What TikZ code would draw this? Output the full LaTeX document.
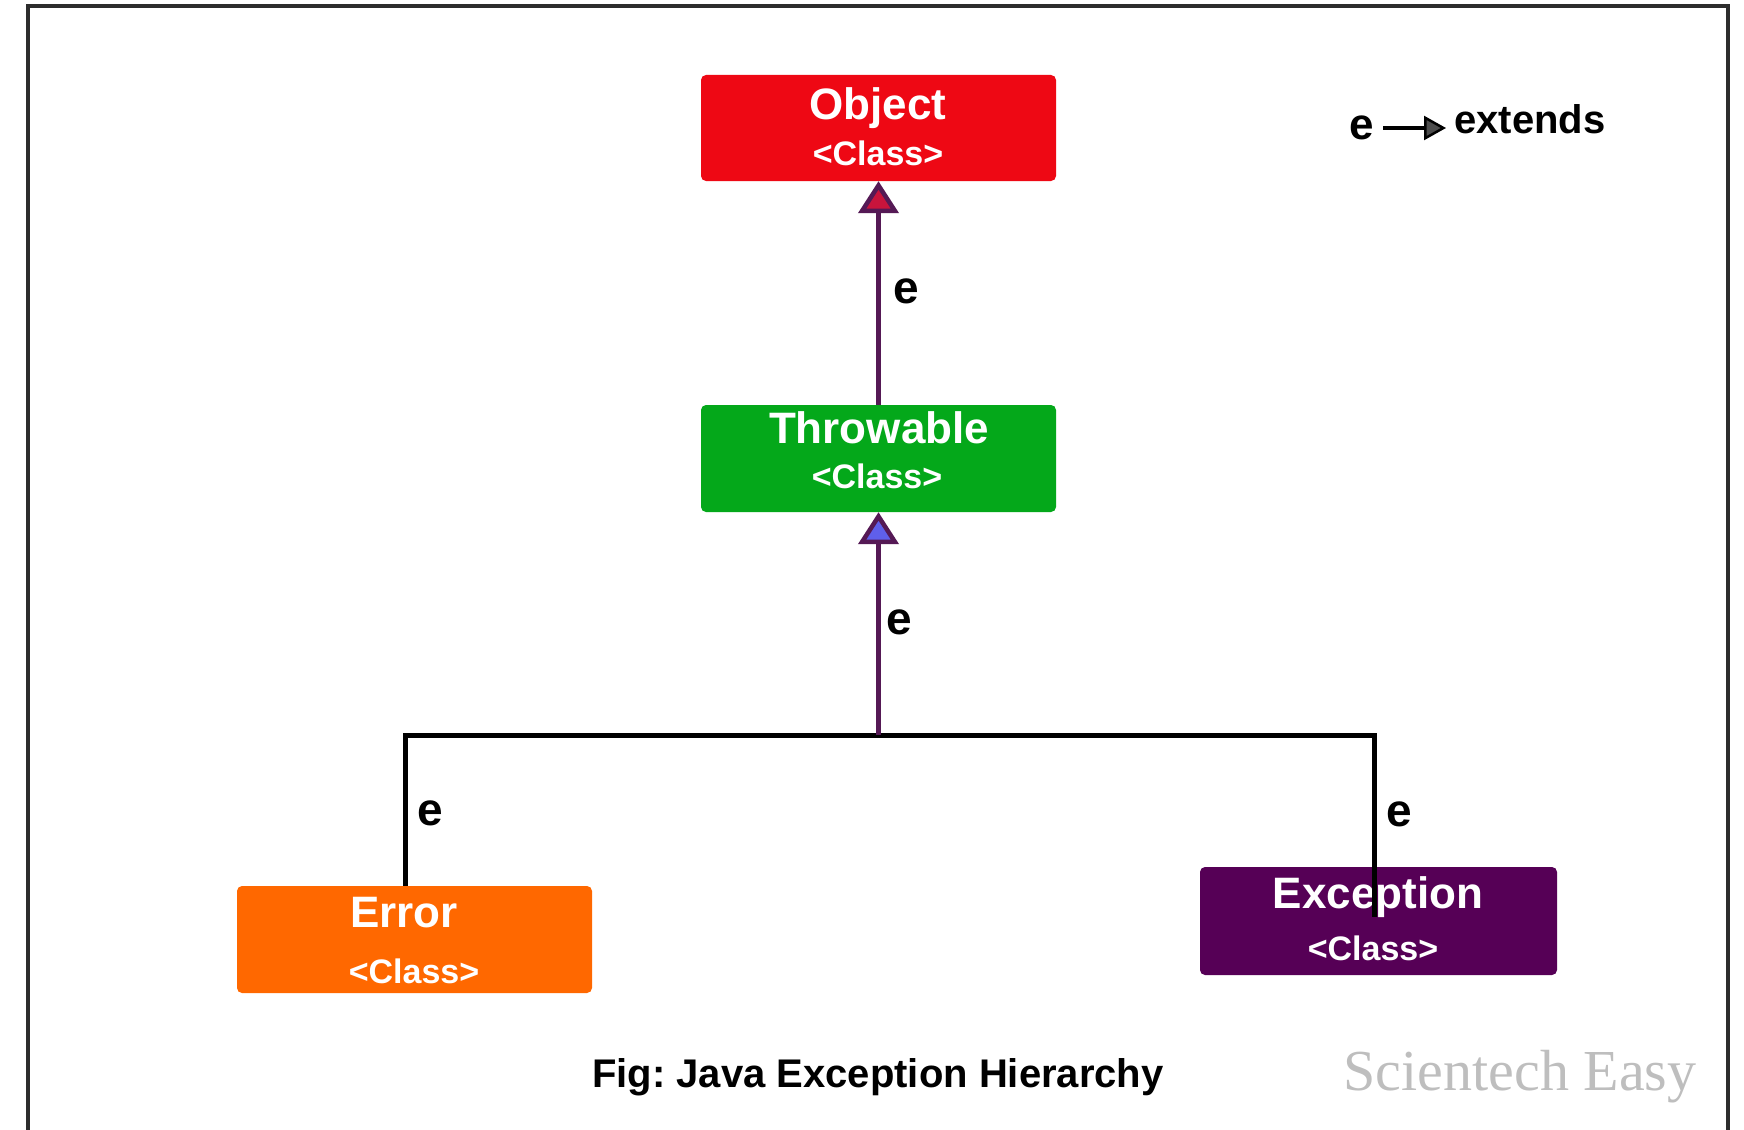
\documentclass[tikz,border=0pt]{standalone}
\usepackage{fontspec}
\setmainfont{Liberation Sans}
\newfontfamily\wmfont{Liberation Serif}
\usetikzlibrary{arrows.meta}
\definecolor{objred}{RGB}{238,8,20}
\definecolor{thrgreen}{RGB}{4,168,26}
\definecolor{errorange}{RGB}{255,104,0}
\definecolor{excpurple}{RGB}{86,0,86}
\definecolor{linkpurple}{RGB}{85,25,85}
\definecolor{tipred}{RGB}{200,20,60}
\definecolor{tipblue}{RGB}{95,95,235}
\definecolor{framegray}{RGB}{45,45,45}
\definecolor{wmgray}{RGB}{190,190,190}
\frenchspacing
\begin{document}
\begin{tikzpicture}[x=1pt,y=-1pt,
 box/.style={rounded corners=5pt, minimum width=355pt, minimum height=106pt, inner sep=0pt, draw=none},
 ttl/.style={anchor=base, text=white, font=\fontsize{44}{44}\selectfont\bfseries, inner sep=0pt},
 cls/.style={anchor=base, text=white, font=\fontsize{34}{34}\selectfont\bfseries, inner sep=0pt},
 elab/.style={font=\fontsize{46}{46}\selectfont\bfseries, inner sep=0pt},
 link/.style={line width=5pt, draw=linkpurple},
 tree/.style={line width=5pt, draw=black}
]
\useasboundingbox (0,0) rectangle (1744,1129);
\fill[white] (0,0) rectangle (1744,1129);
% frame
\draw[framegray, line width=4pt] (28,1135) -- (28,6) -- (1728,6) -- (1728,1135);

% boxes
\node[box, fill=objred] (obj) at (878.5,128) {};
\node[box, fill=thrgreen, minimum height=107pt] (thr) at (878.5,458.5) {};
\node[box, fill=errorange, minimum height=107pt] (err) at (414.5,939.5) {};
\node[box, fill=excpurple, minimum height=108pt, minimum width=357pt] (exc) at (1378.5,921) {};

% texts
\node[ttl] (objT) at (878,120) {Object};
\node[cls] (objC) at (878,165) {<Class>};
\node[ttl] (thrT) at (879,443) {Throwable};
\node[cls] (thrC) at (877,488) {<Class>};
\node[ttl] (errT) at (404,927) {Error};
\node[cls] (errC) at (414,983) {<Class>};
\node[ttl] (excT) at (1378,908) {Exception};
\node[cls] (excC) at (1373,960) {<Class>};

% tree
\coordinate (j) at (878.5,735);
\coordinate (lc) at (405,735);
\coordinate (rc) at (1374,735);
\coordinate (xe) at (1374,917);
\draw[tree] (lc |- err.north) -- (lc) -- (rc) -- (xe);

% extends arrows
\draw[link, -{Triangle[length=32pt,width=40pt,fill=tipred,line width=4.5pt]}] (thr.north) -- (obj.south);
\draw[link, -{Triangle[length=32pt,width=40pt,fill=tipblue,line width=4.5pt]}] (j) -- (thr.south);

% e labels
\node[elab] (e1) at (906,291) {e};
\node[elab] (e2) at (899,622) {e};
\node[elab] (e3) at (430,813) {e};
\node[elab] (e4) at (1399,814) {e};

% legend
\node[elab, font=\fontsize{44}{44}\selectfont\bfseries] (le) at (1362,128) {e};
\node[anchor=base west, inner sep=0pt, font=\fontsize{40}{40}\selectfont\bfseries] (lx) at (1454,133) {extends};
\draw[line width=3.5pt, shorten <=9pt, shorten >=8pt, -{Triangle[length=22pt,width=24pt,fill=gray!60!black,line width=2.5pt]}] (le.east) -- (le.east -| lx.west);

% caption
\node[anchor=base, inner sep=0pt, font=\fontsize{40}{40}\selectfont\bfseries] (cap) at (878,1087) {Fig: Java Exception Hierarchy};
\node[anchor=base, inner sep=0pt, text=wmgray, font=\wmfont\fontsize{58}{58}\selectfont] (wm) at (1520,1090) {Scientech Easy};
\end{tikzpicture}
\end{document}
